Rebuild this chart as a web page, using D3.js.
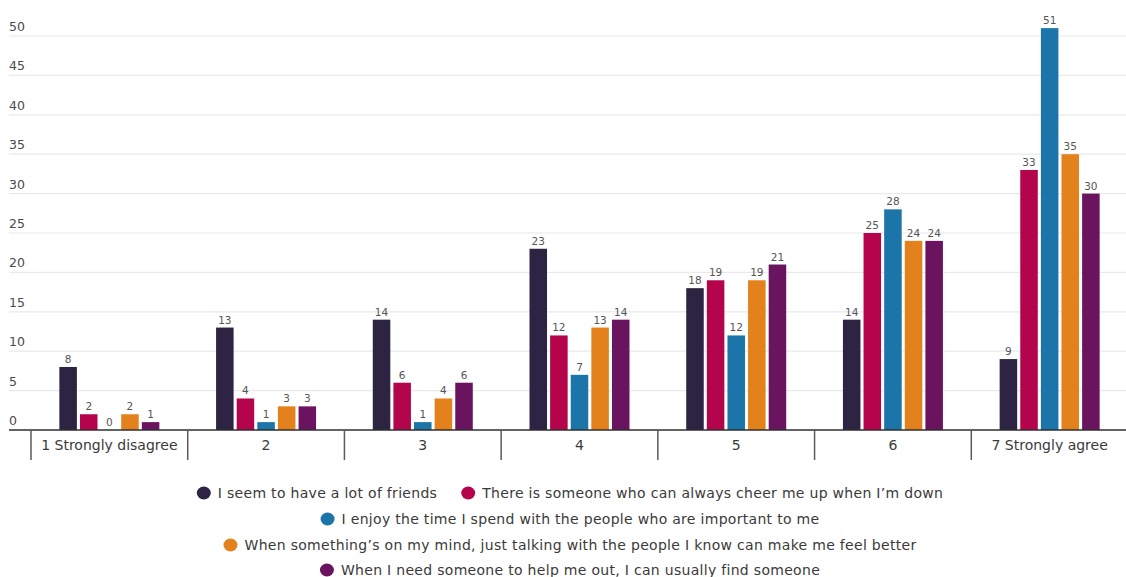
<!DOCTYPE html>
<html>
<head>
<meta charset="utf-8">
<script src="https://cdn.jsdelivr.net/npm/d3@7"></script>
<style>
  html, body { margin: 0; padding: 0; background: #fff; }
  svg { display: block; font-family: "DejaVu Sans", "Open Sans", sans-serif; }
</style>
</head>
<body>
<svg id="chart" width="1126" height="577"></svg>
<script>
// Response categories (agreement scale)
const categories = ["1 Strongly disagree", "2", "3", "4", "5", "6", "7 Strongly agree"];

// Statements, one series each
const seriesNames = [
  "I seem to have a lot of friends",
  "There is someone who can always cheer me up when I\u2019m down",
  "I enjoy the time I spend with the people who are important to me",
  "When something\u2019s on my mind, just talking with the people I know can make me feel better",
  "When I need someone to help me out, I can usually find someone"
];

// Values per series, ordered by category
const friends   = [8, 13, 14, 23, 18, 14, 9];
const cheerUp   = [2, 4, 6, 12, 19, 25, 33];
const enjoyTime = [0, 1, 1, 7, 12, 28, 51];
const talking   = [2, 3, 4, 13, 19, 24, 35];
const helpOut   = [1, 3, 6, 14, 21, 24, 30];

const seriesValues = [friends, cheerUp, enjoyTime, talking, helpOut];
const seriesColors = ["#2c2442", "#b3044c", "#1b75a8", "#e3821d", "#6a145f"];

const yTicks = [0, 5, 10, 15, 20, 25, 30, 35, 40, 45, 50];

// Legend layout: indices of series on each row
const legendRows = [[0, 1], [2], [3], [4]];

const svg = d3.select("#chart");
const W = 1126;

const x0 = d3.scaleBand().domain(categories).range([31, 1128]).padding(0);
const groupWidth = 100;
const x1 = d3.scaleBand().domain(d3.range(seriesNames.length)).range([0, groupWidth]).paddingInner(0.15);
const y = d3.scaleLinear().domain([0, 50]).range([430, 36]);

// Horizontal gridlines and tick labels
const grid = svg.append("g");
grid.selectAll("line").data(yTicks.filter(d => d > 0)).join("line")
  .attr("x1", 9).attr("x2", W)
  .attr("y1", d => y(d)).attr("y2", d => y(d))
  .attr("stroke", "#e9e9e9").attr("stroke-width", 1.2);
grid.selectAll("text").data(yTicks).join("text")
  .attr("x", 9).attr("y", d => y(d) - 5)
  .attr("font-size", 12.5).attr("fill", "#4a4a4a")
  .text(d => d);

// Bars
const groups = svg.append("g").selectAll("g").data(categories).join("g")
  .attr("transform", c => `translate(${x0(c) + (x0.bandwidth() - groupWidth) / 2},0)`);

groups.each(function(c, ci) {
  const g = d3.select(this);
  const rows = seriesValues.map((vals, si) => ({ si, v: vals[ci] }));
  g.selectAll("rect").data(rows).join("rect")
    .attr("x", d => x1(d.si)).attr("width", x1.bandwidth())
    .attr("y", d => y(d.v)).attr("height", d => y(0) - y(d.v))
    .attr("fill", d => seriesColors[d.si]);
  g.selectAll("text").data(rows).join("text")
    .attr("x", d => x1(d.si) + x1.bandwidth() / 2)
    .attr("y", d => y(d.v) - 4)
    .attr("text-anchor", "middle")
    .attr("font-size", 10.5).attr("fill", "#555")
    .text(d => d.v);
});

// Category axis
const axis = svg.append("g");
axis.append("line")
  .attr("x1", 9).attr("x2", W).attr("y1", y(0)).attr("y2", y(0))
  .attr("stroke", "#2f2f2f").attr("stroke-width", 1.6);
axis.selectAll("line.div").data(categories).join("line").attr("class", "div")
  .attr("x1", c => x0(c)).attr("x2", c => x0(c))
  .attr("y1", y(0)).attr("y2", 460)
  .attr("stroke", "#5a5a5a").attr("stroke-width", 1.5);
axis.selectAll("text").data(categories).join("text")
  .attr("x", c => x0(c) + x0.bandwidth() / 2)
  .attr("y", 450)
  .attr("text-anchor", "middle")
  .attr("font-size", 14).attr("fill", "#3a3a3a")
  .text(c => c);

// Legend
const legend = svg.append("g");
const legendCenter = 570;
const rowY = [493, 519, 545, 570];
legendRows.forEach((row, ri) => {
  const rg = legend.append("g");
  let cursor = 0;
  row.forEach((si, k) => {
    if (k > 0) cursor += 24;
    rg.append("ellipse")
      .attr("cx", cursor + 7).attr("cy", 0).attr("rx", 7).attr("ry", 6.5)
      .attr("fill", seriesColors[si]);
    const t = rg.append("text")
      .attr("x", cursor + 21).attr("y", 0).attr("dy", "0.35em")
      .attr("font-size", 14).attr("letter-spacing", 0.3).attr("fill", "#3a3a3a")
      .text(seriesNames[si]);
    cursor += 21 + t.node().getComputedTextLength();
  });
  rg.attr("transform", `translate(${legendCenter - cursor / 2},${rowY[ri]})`);
});
</script>
</body>
</html>
